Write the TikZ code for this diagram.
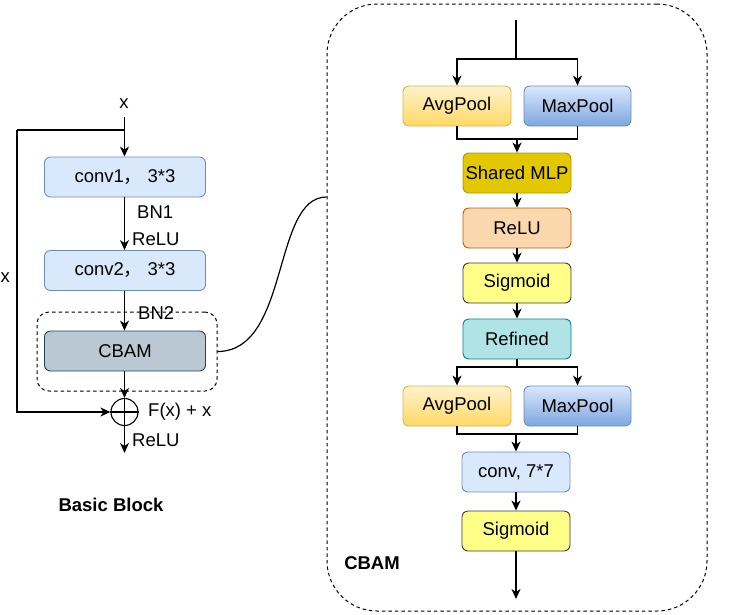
\documentclass[tikz,border=0pt]{standalone}
\usepackage{fontspec}
\setmainfont{Liberation Sans}
\newfontfamily\cjk{Noto Sans CJK SC}
\usetikzlibrary{arrows.meta,shapes.geometric}
\definecolor{bfill}{HTML}{DAE8FC}
\definecolor{bline}{HTML}{6C8EBF}
\definecolor{bdark}{HTML}{7EA6E0}
\definecolor{cfill}{HTML}{BAC8D3}
\definecolor{cline}{HTML}{23445D}
\definecolor{yfill}{HTML}{FFF2CC}
\definecolor{ydark}{HTML}{FFD966}
\definecolor{yline}{HTML}{D6B656}
\definecolor{mfill}{HTML}{E3C800}
\definecolor{mline}{HTML}{B09500}
\definecolor{rfill}{HTML}{FAD7AC}
\definecolor{rline}{HTML}{B46504}
\definecolor{sfill}{HTML}{FFFF88}
\definecolor{sline}{HTML}{36393D}
\definecolor{tfill}{HTML}{B0E3E6}
\definecolor{tline}{HTML}{0E8088}
\tikzset{
  blk/.style={draw, rounded corners=6pt, line width=0.9pt, inner sep=0pt,
    minimum width=108pt, minimum height=40pt, font=\fontsize{18.5}{22}\selectfont},
  wideblk/.style={blk, minimum width=161pt},
  bluebox/.style={blk, fill=bfill, draw=bline},
  avgbox/.style={blk, top color=yfill, bottom color=ydark, draw=yline},
  maxbox/.style={blk, top color=bfill, bottom color=bdark, draw=bline},
  lbl/.style={inner sep=0pt, font=\fontsize{18.5}{22}\selectfont},
  boldlbl/.style={lbl, font=\fontsize{18.5}{22}\selectfont\bfseries},
  dashbox/.style={draw, line width=1pt, dash pattern=on 3.5pt off 3pt, inner sep=0pt},
  arr/.style={line width=1.3pt, -{Stealth[length=10pt,width=9pt,inset=3pt]}},
  ln/.style={line width=1.3pt},
}
\begin{document}
\begin{tikzpicture}[x=1pt,y=-1pt]
\useasboundingbox (0,0) rectangle (730,614);
% ---- Basic block ----
\node[lbl] (xlab) at (124,104) {x};
\node[lbl, anchor=west] (xskip) at (0.5,278) {x};
\node[wideblk, fill=bfill, draw=bline] (conv1) at (125,177) {conv1{\cjk ，} 3*3};
\node[wideblk, fill=bfill, draw=bline] (conv2) at (125,270.5) {conv2{\cjk ，} 3*3};
\node[dashbox, rounded corners=12pt, minimum width=180pt, minimum height=79pt] (wrap) at (127,351.5) {};
\node[wideblk, fill=cfill, draw=cline] (cbam) at (125,351) {CBAM};
\node[draw, circle, line width=1.1pt, minimum size=27pt, inner sep=0pt] (sum) at (124.5,412) {};
\draw[line width=1.1pt] (sum.north) -- (sum.south) (sum.west) -- (sum.east);
\node[lbl, anchor=west] (bn1) at (137,212) {BN1};
\node[lbl, anchor=west] (relu1) at (132,239) {ReLU};
\node[lbl, anchor=west] (bn2) at (138,313) {BN2};
\node[lbl, anchor=west] (fx) at (148,412) {F(x) + x};
\node[lbl, anchor=west] (relu2) at (132,440) {ReLU};
\node[boldlbl] (bb) at (111,505) {Basic Block};
\coordinate (xin) at (124.5,117);
\coordinate (sk) at (124.5,130);
\coordinate (skc) at (17,130);
\coordinate (out) at (124.5,453);
\draw[arr] (xin) -- (conv1.north -| xin);
\draw[ln] (sk) -- (skc);
\draw[arr] (skc) |- (sum.west);
\draw[arr] (conv1.south -| xin) -- (conv2.north -| xin);
\draw[arr] (conv2.south -| xin) -- (cbam.north -| xin);
\draw[arr] (cbam.south -| xin) -- (sum.north);
\draw[arr] (sum.south) -- (out);
% ---- CBAM ----
\node[dashbox, rounded corners=50pt, minimum width=380pt, minimum height=607pt] (big) at (517,307.5) {};
\node[boldlbl] (cbamlab) at (372,563) {CBAM};
\draw[line width=1.2pt] (wrap.east) .. controls (290,351.5) and (272,197) .. (big.west |- 0,197);
\node[avgbox] (avg1) at (457,106) {AvgPool};
\node[maxbox, minimum width=107pt] (max1) at (577.5,106) {MaxPool};
\node[blk, fill=mfill, draw=mline] (mlp) at (517,173) {Shared MLP};
\node[blk, fill=rfill, draw=rline] (relu) at (517,228) {ReLU};
\node[blk, fill=sfill, draw=sline] (sig1) at (517,283) {Sigmoid};
\node[blk, fill=tfill, draw=tline] (ref) at (517,339) {Refined};
\node[avgbox] (avg2) at (457,406) {AvgPool};
\node[maxbox, minimum width=107pt] (max2) at (577.5,406) {MaxPool};
\node[bluebox] (conv7) at (516,472) {conv, 7*7};
\node[blk, fill=sfill, draw=sline] (sig2) at (516,531) {Sigmoid};
\coordinate (top) at (516,20);
\coordinate (s1) at (516,59);
\coordinate (m1) at (517,139);
\coordinate (s2) at (517,367);
\coordinate (m2) at (516,434);
\coordinate (bot) at (516,599);
\draw[ln] (top) -- (s1);
\draw[arr] (s1) -| (avg1.north);
\draw[arr] (s1) -| (max1.north);
\draw[ln] (avg1.south) |- (m1);
\draw[ln] (max1.south) |- (m1);
\draw[arr] (m1) -- (mlp.north);
\draw[arr] (mlp.south) -- (relu.north);
\draw[arr] (relu.south) -- (sig1.north);
\draw[arr] (sig1.south) -- (ref.north);
\draw[ln] (ref.south) -- (s2);
\draw[arr] (s2) -| (avg2.north);
\draw[arr] (s2) -| (max2.north);
\draw[ln] (avg2.south) |- (m2);
\draw[ln] (max2.south) |- (m2);
\draw[arr] (m2) -- (conv7.north);
\draw[arr] (conv7.south) -- (sig2.north);
\draw[arr] (sig2.south) -- (bot);
\end{tikzpicture}
\end{document}
